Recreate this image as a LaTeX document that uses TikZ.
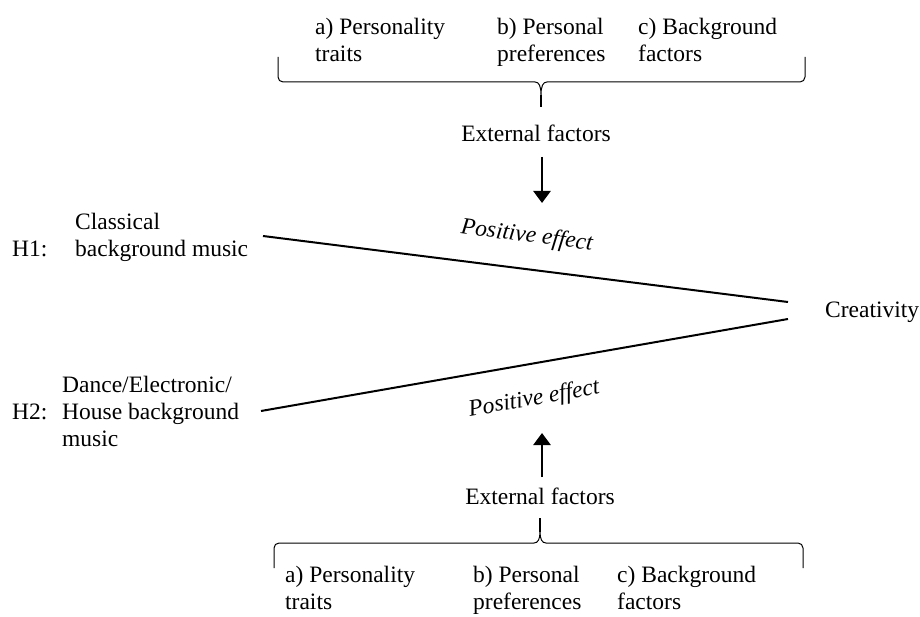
\documentclass[tikz,border=0pt]{standalone}
\usepackage{fontspec}
\setmainfont{Liberation Serif}
\usetikzlibrary{arrows.meta}
\begin{document}
\begin{tikzpicture}[x=1pt,y=1pt,
  txt/.style={inner sep=0pt, anchor=base west, align=left, font=\fontsize{23.5}{27}\selectfont},
  ctxt/.style={inner sep=0pt, anchor=base, font=\fontsize{23.5}{27}\selectfont},
  mainline/.style={line width=2pt},
  bracepath/.style={line width=1pt, line join=round},
  stem/.style={line width=2pt},
  effarrow/.style={line width=2.6pt, -{Triangle[length=12pt,width=17pt]}}]
\useasboundingbox (0,0) rectangle (920,-617);

% top factor list (base anchor = baseline of last line)
\node[txt] (ta) at (315,-62) {a) Personality\\traits};
\node[txt] (tb) at (497,-62) {b) Personal\\preferences};
\node[txt] (tc) at (638,-62) {c) Background\\factors};

% top brace
\draw[bracepath] (278,-57) -- (278,-77) to[out=-90,in=180] (283,-82) -- (535,-82)
  .. controls (539,-82) and (541,-86) .. (541,-95)
  .. controls (541,-86) and (543,-82) .. (547,-82) -- (800,-82)
  to[out=0,in=-90] (805,-77) -- (805,-57);
\coordinate (tcusp) at (541,-95);
\coordinate (tstem) at (541,-107);
\draw[stem] (tcusp) -- (tstem);

\node[ctxt] (extT) at (536,-142) {External factors};
\coordinate (tarrS) at (542,-157);
\coordinate (tarrE) at (542,-203);
\draw[effarrow] (tarrS) -- (tarrE);

% hypotheses
\node[txt] (h1) at (12,-257) {H1:};
\node[txt] (classical) at (75,-257) {Classical\\background music};
\node[txt] (h2) at (12,-419) {H2:};
\node[txt] (dance) at (62,-446) {Dance/Electronic/\\House background\\music};
\node[txt] (creat) at (825,-317) {Creativity};

\coordinate (l1s) at (263,-236);
\coordinate (l1e) at (788,-302);
\coordinate (l2s) at (261,-411);
\coordinate (l2e) at (788,-319);
\draw[mainline] (l1s) -- (l1e);
\draw[mainline] (l2s) -- (l2e);

\node[ctxt, rotate=-7.2] (pe1) at (526,-242) {\itshape Positive effect};
\node[ctxt, rotate=10] (pe2) at (535,-405) {\itshape Positive effect};

% bottom
\coordinate (barrS) at (542,-477);
\coordinate (barrE) at (542,-433);
\draw[effarrow] (barrS) -- (barrE);
\node[ctxt] (extB) at (540,-504) {External factors};

\coordinate (bstem) at (540,-518);
\coordinate (bcusp) at (540,-532);
\draw[stem] (bstem) -- (bcusp);
\draw[bracepath] (274,-568) -- (274,-548) to[out=90,in=180] (279,-543) -- (534,-543)
  .. controls (538,-543) and (540,-539) .. (540,-532)
  .. controls (540,-539) and (542,-543) .. (546,-543) -- (798,-543)
  to[out=0,in=90] (803,-548) -- (803,-568);

\node[txt] (ba) at (285,-609) {a) Personality\\traits};
\node[txt] (bb) at (473,-609) {b) Personal\\preferences};
\node[txt] (bc) at (617,-609) {c) Background\\factors};
\end{tikzpicture}
\end{document}
